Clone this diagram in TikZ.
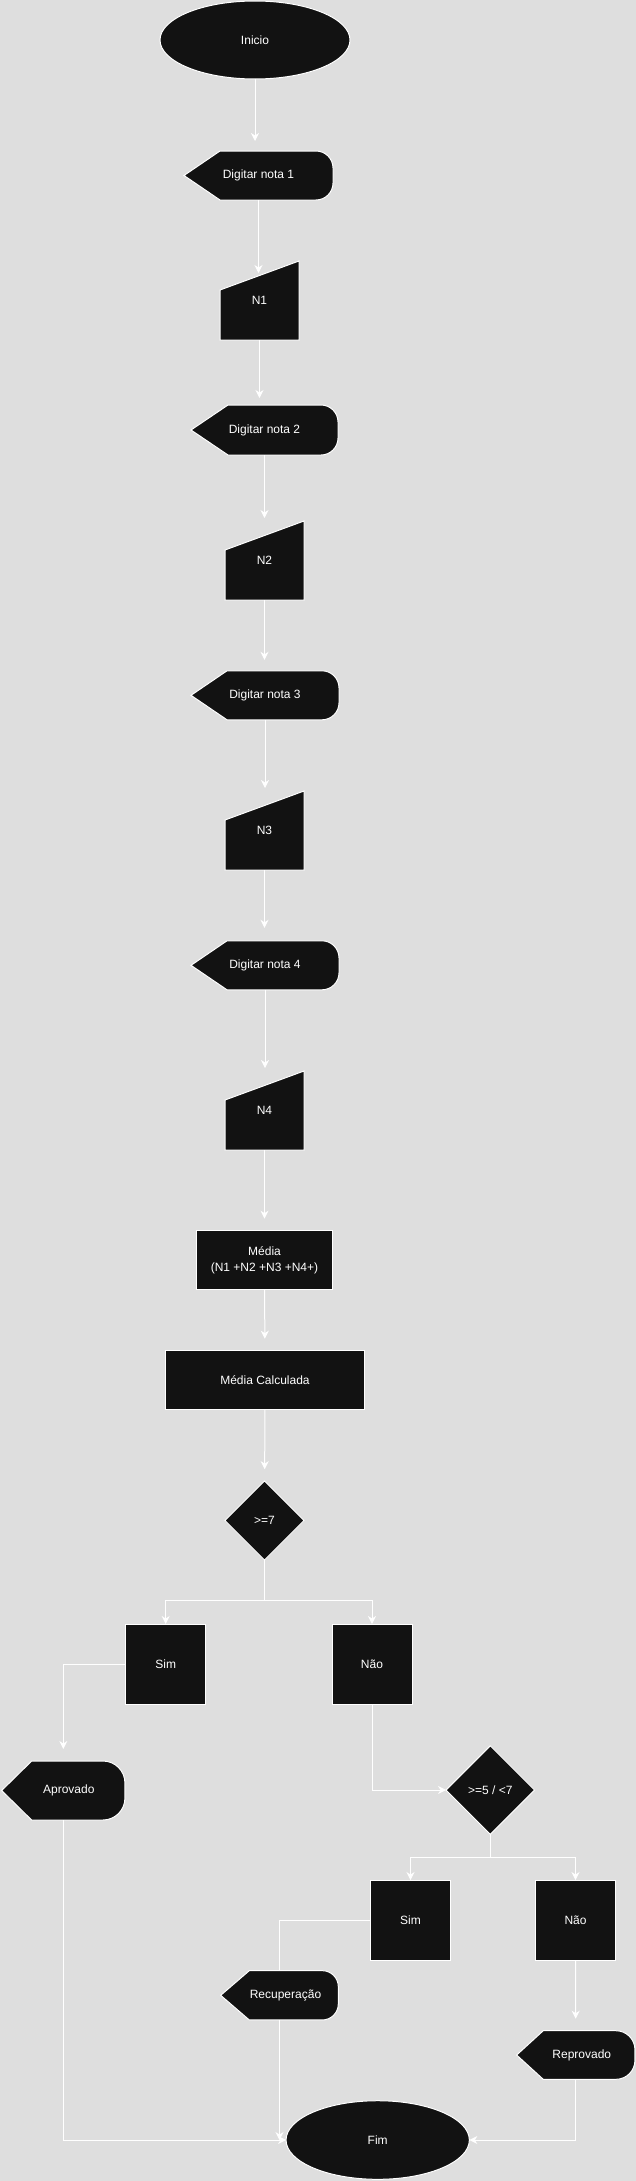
\documentclass[tikz,border=0pt]{standalone}
\usepackage{fontspec}
\setmainfont{Liberation Sans}
\usetikzlibrary{shapes.geometric,arrows.meta}

\definecolor{bgcol}{RGB}{222,222,222}
\definecolor{formcol}{RGB}{18,18,18}

\pgfdeclarelayer{back}
\pgfdeclarelayer{forms}
\pgfsetlayers{back,forms,main}

\tikzset{
	form/.style={fill=formcol, draw=white, line width=1pt},
	txt/.style={text=white, font=\fontsize{12}{15.5}\selectfont, inner sep=0pt, outer sep=0pt, align=center},
	term/.style 2 args={form, txt, ellipse, minimum width=#1, minimum height=#2},
	box/.style 2 args={form, txt, rectangle, minimum width=#1, minimum height=#2},
	dia/.style={form, txt, diamond, aspect=1, minimum width=#1, minimum height=#1},
	disp/.style 2 args={txt, minimum width=#1, minimum height=#2},
	manual/.style={txt, minimum width=79pt, minimum height=79pt},
	line/.style={draw=white, line width=1pt},
	arr/.style={line, -{Stealth[length=8pt, width=8pt, inset=2.5pt]}}
}

\newcommand\dispform[3]{%
	\begin{pgfonlayer}{forms}
		\draw[form] (#1.west) -- ([xshift=#2pt]#1.north west) -- ([xshift=-#3pt]#1.north east)
			arc[start angle=90, end angle=0, radius=#3pt] -- ([yshift=#3pt]#1.south east)
			arc[start angle=0, end angle=-90, radius=#3pt] -- ([xshift=#2pt]#1.south west) -- cycle;
	\end{pgfonlayer}}

\newcommand\manform[1]{%
	\begin{pgfonlayer}{forms}
		\draw[form] (#1.south west) -- ([yshift=-29pt]#1.north west) -- (#1.north east) -- (#1.south east) -- cycle;
	\end{pgfonlayer}}

\begin{document}
\begin{tikzpicture}[x=1pt, y=1pt]
		\begin{pgfonlayer}{back}
			\fill[bgcol] (0,0) rectangle (636,-2181);
		\end{pgfonlayer}
		\useasboundingbox (0,0) rectangle (636,-2181);

		\node[term={190pt}{78pt}] (inicio) at (255,-40) {Inicio};

		\node[disp={149pt}{49pt}] (d1) at (258.5,-175.5) {Digitar nota 1};
		\node[manual] (n1) at (259.5,-300.5) {N1};
		\node[disp={147pt}{50pt}] (d2) at (264.5,-430) {Digitar nota 2};
		\node[manual] (n2) at (264.5,-560.5) {N2};
		\node[disp={148pt}{49pt}] (d3) at (265,-695.3) {Digitar nota 3};
		\node[manual] (n3) at (264.5,-830.5) {N3};
		\node[disp={148pt}{49pt}] (d4) at (265,-965.3) {Digitar nota 4};
		\node[manual] (n4) at (264.5,-1110.5) {N4};

		\dispform{d1}{36}{17}
		\dispform{d2}{37}{17}
		\dispform{d3}{36}{17}
		\dispform{d4}{36}{17}
		\manform{n1}
		\manform{n2}
		\manform{n3}
		\manform{n4}

		\node[box={135.6pt}{59.3pt}] (media) at (264.5,-1260.3) {Média\\(N1 +N2 +N3 +N4+)};
		\node[box={198.4pt}{59.3pt}] (calc) at (265,-1380.3) {Média Calculada};

		\node[dia=79pt] (dia1) at (264.5,-1520.5) {>=7};
		\node[box={80pt}{80pt}] (sim1) at (165.7,-1664) {Sim};
		\node[box={80pt}{80pt}] (nao1) at (372,-1664) {Não};

		\node[disp={123.3pt}{59pt}] (aprov) at (63.3,-1790.5) {\hspace*{11pt}Aprovado};
		\dispform{aprov}{30}{22}

		\node[dia=88.5pt] (dia2) at (490.3,-1790) {>=5 / <7};
		\node[box={80pt}{80pt}] (sim2) at (410.5,-1920) {Sim};
		\node[box={80pt}{80pt}] (nao2) at (575.5,-1920) {Não};

		\node[disp={117.6pt}{49.3pt}] (recup) at (279.5,-1995.3) {\hspace*{12pt}Recuperação};
		\node[disp={118.3pt}{48.6pt}] (reprov) at (575.8,-2055) {\hspace*{12pt}Reprovado};
		\dispform{recup}{28.6}{16}
		\dispform{reprov}{26.6}{19}

		\node[term={183.3pt}{78.6pt}] (fim) at (377.7,-2140) {Fim};

		\draw[arr, shorten >=10pt] (inicio.south) -- (inicio.south |- d1.north);
		\draw[arr, shorten >=-12pt] (d1.south) -- (d1.south |- n1.north);
		\draw[arr, shorten >=7pt] (n1.south) -- (n1.south |- d2.north);
		\draw[arr, shorten >=3pt] (d2.south) -- (d2.south |- n2.north);
		\draw[arr, shorten >=11pt] (n2.south) -- (n2.south |- d3.north);
		\draw[arr, shorten >=3pt] (d3.south) -- (d3.south |- n3.north);
		\draw[arr, shorten >=13pt] (n3.south) -- (n3.south |- d4.north);
		\draw[arr, shorten >=3pt] (d4.south) -- (d4.south |- n4.north);
		\draw[arr, shorten >=12pt] (n4.south) -- (n4.south |- media.north);
		\draw[arr, shorten >=12pt] (media) -- (calc);
		\draw[arr, shorten >=12pt] (calc) -- (dia1);

		\draw[arr] (dia1.south) -- ++(0,-40) -| (sim1.north);
		\draw[arr] (dia1.south) -- ++(0,-40) -| (nao1.north);
		\draw[arr, shorten >=12pt] (sim1.west) -| (aprov.north);
		\draw[arr] (nao1.south) |- (dia2.west);

		\draw[arr] (dia2.south) -- ++(0,-23.5) -| (sim2.north);
		\draw[arr] (dia2.south) -- ++(0,-23.5) -| (nao2.north);
		\draw[line] (sim2.west) -| (recup.north);
		\draw[arr, shorten >=12pt] (nao2) -- (reprov);

		\draw[arr] (aprov.south) |- (fim.west);
		\draw[arr] (recup.south) -- (recup.south |- fim.west);
		\draw[arr] (reprov.south) |- (fim.east);
	\end{tikzpicture}
\end{document}
